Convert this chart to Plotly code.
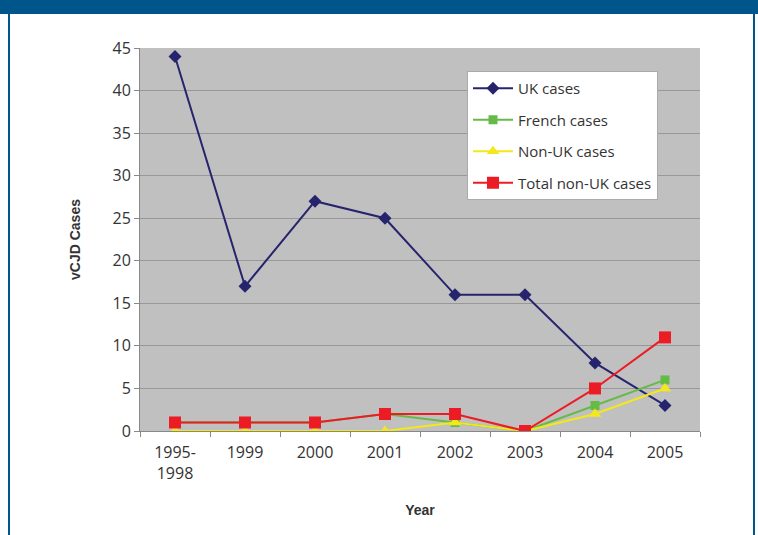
import plotly.graph_objects as go

years = ["1995-<br>1998", "1999", "2000", "2001", "2002", "2003", "2004", "2005"]
uk_cases = [44, 17, 27, 25, 16, 16, 8, 3]
french_cases = [1, 1, 1, 2, 1, 0, 3, 6]
non_uk_cases = [0, 0, 0, 0, 1, 0, 2, 5]
total_non_uk = [1, 1, 1, 2, 2, 0, 5, 11]

FONT = "Open Sans, Liberation Sans"
NARROW = "Liberation Sans Narrow, Liberation Sans, Arial"

fig = go.Figure()
fig.add_trace(go.Scatter(x=years, y=uk_cases, name="UK cases", mode="lines+markers",
                         legendgroup="a",
                         line=dict(color="#27246e", width=2),
                         marker=dict(symbol="diamond", size=10, color="#27246e")))
fig.add_trace(go.Scatter(x=years, y=french_cases, name="French cases", mode="lines+markers",
                         legendgroup="b",
                         line=dict(color="#66bb46", width=2),
                         marker=dict(symbol="square", size=9, color="#66bb46")))
fig.add_trace(go.Scatter(x=years, y=non_uk_cases, name="Non-UK cases", mode="lines+markers",
                         legendgroup="c",
                         line=dict(color="#f4e81a", width=2),
                         marker=dict(symbol="triangle-up", size=11, color="#f4e81a")))
fig.add_trace(go.Scatter(x=years, y=total_non_uk, name="Total non-UK cases", mode="lines+markers",
                         legendgroup="d",
                         line=dict(color="#ec1c24", width=2),
                         marker=dict(symbol="square", size=12, color="#ec1c24")))

L, R, T, B = 140, 58, 48, 104
W, H = 758, 535
pw, ph = W - L - R, H - T - B

def px(x):
    return (x - L) / pw

def py(y):
    return (H - B - y) / ph

shapes = [
    dict(type="rect", xref="paper", yref="paper", x0=px(-5), x1=px(W + 5), y0=py(14), y1=py(-5),
         fillcolor="#00568a", line=dict(width=0), layer="above"),
    dict(type="line", xref="paper", yref="paper", x0=px(9), x1=px(9), y0=py(14), y1=py(H + 5),
         line=dict(color="#00568a", width=2)),
    dict(type="line", xref="paper", yref="paper", x0=px(754), x1=px(754), y0=py(14), y1=py(H + 5),
         line=dict(color="#00568a", width=2)),
]

fig.update_layout(
    width=W, height=H,
    margin=dict(l=L, r=R, t=T, b=B),
    paper_bgcolor="white",
    plot_bgcolor="#c0c0c0",
    font=dict(family=FONT, size=16, color="#333333"),
    showlegend=True,
    legend=dict(x=px(467), y=py(71), xanchor="left", yanchor="top",
                bgcolor="white", bordercolor="#aaaaaa", borderwidth=1,
                font=dict(size=15, color="#333333"), itemwidth=40,
                tracegroupgap=9),
    shapes=shapes,
    xaxis=dict(type="category", range=[-0.5, 7.5], showgrid=False,
               showline=True, linecolor="#888888", linewidth=1,
               ticks="outside", tickson="boundaries", ticklen=5, tickcolor="#888888",
               ticklabelstandoff=7,
               tickfont=dict(size=16, color="#333333"),
               title=dict(text="<b>Year</b>", font=dict(family=NARROW, size=14, color="#333333"),
                          standoff=22)),
    yaxis=dict(range=[0, 45], dtick=5, showgrid=True, gridcolor="#989898", gridwidth=1,
               showline=True, linecolor="#888888", linewidth=1, zeroline=False,
               ticks="outside", ticklen=5, tickcolor="#888888",
               tickfont=dict(size=16, color="#333333"),
               title=dict(text="<b>vCJD Cases</b>", font=dict(family=NARROW, size=14, color="#333333"),
                          standoff=28)),
)

fig.write_html("out.html")
